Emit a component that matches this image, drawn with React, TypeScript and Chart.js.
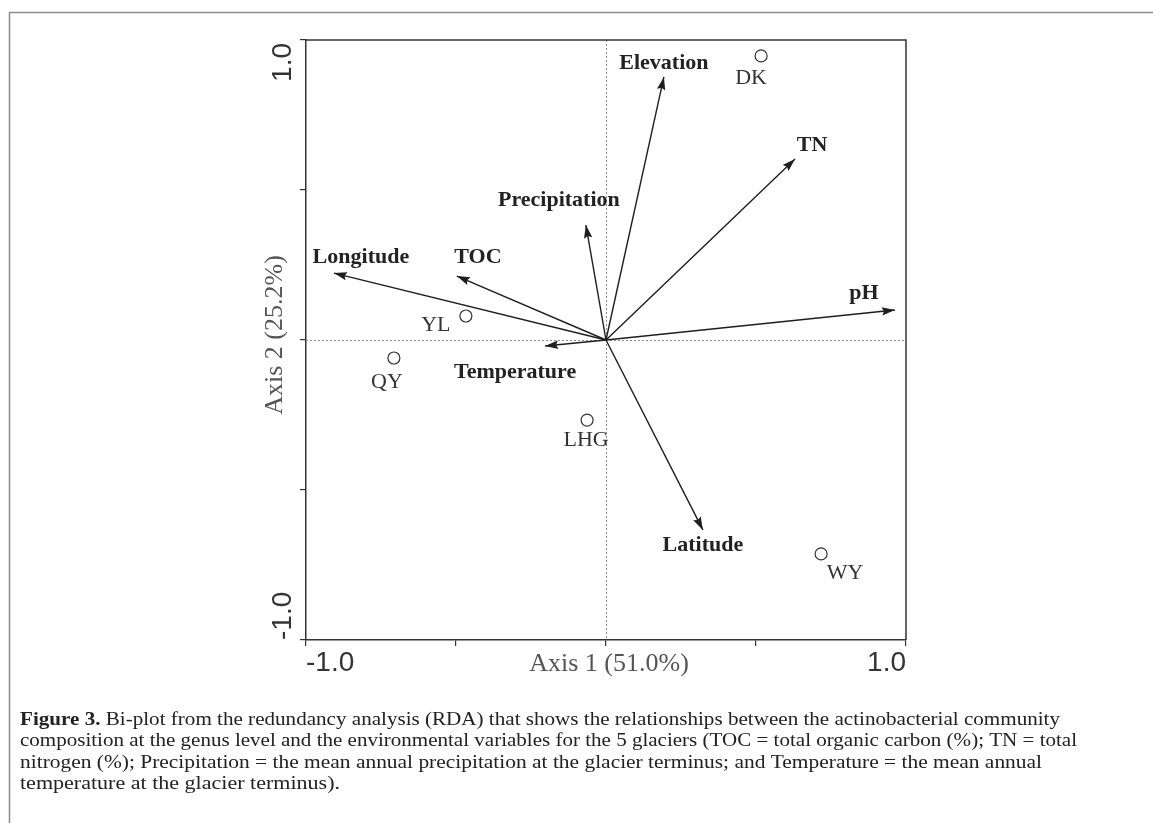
import React, { useEffect, useRef } from 'react';
import { Chart, registerables } from 'chart.js';

Chart.register(...registerables);

// ---- data ----
const VECTOR_NAMES = ['Elevation', 'TN', 'pH', 'Precipitation', 'Longitude', 'TOC', 'Temperature', 'Latitude'];
const VECTOR_X = [0.193, 0.63, 0.963, -0.067, -0.907, -0.497, -0.203, 0.323];
const VECTOR_Y = [0.877, 0.603, 0.1, 0.383, 0.223, 0.213, -0.02, -0.633];

const SITE_NAMES = ['DK', 'YL', 'QY', 'LHG', 'WY'];
const SITE_X = [0.517, -0.467, -0.707, -0.063, 0.717];
const SITE_Y = [0.947, 0.08, -0.06, -0.267, -0.713];

const AXIS_TICKS = [-1, -0.5, 0, 0.5, 1];
const TICK_LABELS = ['-1.0', '', '', '', '1.0'];

const X_TITLE = 'Axis 1 (51.0%)';
const Y_TITLE = 'Axis 2 (25.2%)';

const CAPTION_LINES: [string, string][] = [
  ['Figure 3.', ' Bi-plot from the redundancy analysis (RDA) that shows the relationships between the actinobacterial community'],
  ['', 'composition at the genus level and the environmental variables for the 5 glaciers (TOC = total organic carbon (%); TN = total'],
  ['', 'nitrogen (%); Precipitation = the mean annual precipitation at the glacier terminus; and Temperature = the mean annual'],
  ['', 'temperature at the glacier terminus).'],
];

// ---- label placement / styles ----
const VECTOR_LABEL_OFFSETS = [[0, -14], [17, -14], [-31, -17], [-27, -25], [27, -16], [21, -19], [-30, 26], [0, 15]];
const SITE_LABEL_OFFSETS = [[-10, 22], [-30, 9], [-7, 24], [-1, 20], [24, 19]];
const CAPTION_WIDTHS = [1040, 1057, 1022, 320];
const CAPTION_Y = [720, 741, 763, 784];

const W = 1153;
const H = 823;

const decorPlugin = {
  id: 'decor',
  beforeDraw(chart: any) {
    const ctx = chart.ctx;
    ctx.save();
    ctx.fillStyle = '#ffffff';
    ctx.fillRect(0, 0, chart.width, chart.height);
    ctx.restore();
  },
  beforeDatasetsDraw(chart: any) {
    const ctx = chart.ctx;
    const { left, right, top, bottom } = chart.chartArea;
    const xs = chart.scales.x;
    const ys = chart.scales.y;
    const x0 = xs.getPixelForValue(0);
    const y0 = ys.getPixelForValue(0);
    ctx.save();
    ctx.strokeStyle = '#8a8a8a';
    ctx.lineWidth = 1;
    ctx.setLineDash([2, 2]);
    ctx.beginPath();
    ctx.moveTo(Math.round(x0) + 0.5, top);
    ctx.lineTo(Math.round(x0) + 0.5, bottom);
    ctx.moveTo(left, Math.round(y0) + 0.5);
    ctx.lineTo(right, Math.round(y0) + 0.5);
    ctx.stroke();
    ctx.setLineDash([]);
    // top & right frame
    ctx.strokeStyle = '#333';
    ctx.lineWidth = 1.5;
    ctx.beginPath();
    ctx.moveTo(left, top);
    ctx.lineTo(right, top);
    ctx.lineTo(right, bottom);
    ctx.stroke();
    ctx.restore();
  },
  afterDatasetsDraw(chart: any) {
    const ctx = chart.ctx;
    const ys = chart.scales.y;
    ctx.save();
    // arrowheads
    ctx.fillStyle = '#1e1e1e';
    VECTOR_NAMES.forEach((_, i) => {
      const meta = chart.getDatasetMeta(i);
      const p0 = meta.data[0];
      const p1 = meta.data[1];
      const ang = Math.atan2(p1.y - p0.y, p1.x - p0.x);
      const len = 13;
      const hw = 4.2;
      ctx.save();
      ctx.translate(p1.x, p1.y);
      ctx.rotate(ang);
      ctx.beginPath();
      ctx.moveTo(0, 0);
      ctx.lineTo(-len, -hw);
      ctx.lineTo(-len + 2, 0);
      ctx.lineTo(-len, hw);
      ctx.closePath();
      ctx.fill();
      ctx.restore();
    });
    // vector labels
    ctx.fillStyle = '#222';
    ctx.font = 'bold 22px "Liberation Serif"';
    ctx.textAlign = 'center';
    ctx.textBaseline = 'middle';
    VECTOR_NAMES.forEach((name, i) => {
      const meta = chart.getDatasetMeta(i);
      const p1 = meta.data[1];
      const [dx, dy] = VECTOR_LABEL_OFFSETS[i];
      ctx.fillText(name, p1.x + dx, p1.y + dy);
    });
    // site labels
    const siteMeta = chart.getDatasetMeta(VECTOR_NAMES.length);
    ctx.font = '22px "Liberation Serif"';
    ctx.fillStyle = '#333';
    SITE_NAMES.forEach((name, i) => {
      const p = siteMeta.data[i];
      const [dx, dy] = SITE_LABEL_OFFSETS[i];
      ctx.fillText(name, p.x + dx, p.y + dy);
    });
    // y tick labels (rotated)
    ctx.font = '28px "Liberation Sans"';
    ctx.fillStyle = '#333';
    const yl = ys.right - 23;
    AXIS_TICKS.forEach((v, i) => {
      const label = TICK_LABELS[i];
      if (!label) return;
      const py = ys.getPixelForValue(v);
      ctx.save();
      ctx.translate(yl, i === AXIS_TICKS.length - 1 ? py + 3 : py);
      ctx.rotate(-Math.PI / 2);
      ctx.textAlign = i === AXIS_TICKS.length - 1 ? 'right' : 'left';
      ctx.textBaseline = 'middle';
      ctx.fillText(label, 0, 0);
      ctx.restore();
    });
    // axis titles
    ctx.font = '26px "Liberation Serif"';
    ctx.fillStyle = '#555';
    ctx.textAlign = 'center';
    ctx.textBaseline = 'middle';
    const { left, right, top, bottom } = chart.chartArea;
    ctx.fillText(X_TITLE, (left + right) / 2 + 3, bottom + 24);
    ctx.save();
    ctx.translate(left - 31, (top + bottom) / 2 - 5);
    ctx.rotate(-Math.PI / 2);
    ctx.fillText(Y_TITLE, 0, 0);
    ctx.restore();

    // caption
    ctx.fillStyle = '#222';
    ctx.textBaseline = 'middle';
    ctx.textAlign = 'left';
    CAPTION_LINES.forEach(([boldPart, rest], i) => {
      ctx.font = 'bold 19px "Liberation Serif"';
      const bw = boldPart ? ctx.measureText(boldPart).width : 0;
      ctx.font = '19px "Liberation Serif"';
      const rw = ctx.measureText(rest).width;
      const s = CAPTION_WIDTHS[i] / (bw + rw);
      ctx.save();
      ctx.translate(20, CAPTION_Y[i]);
      ctx.scale(s, 1);
      if (boldPart) {
        ctx.font = 'bold 19px "Liberation Serif"';
        ctx.fillText(boldPart, 0, 0);
      }
      ctx.font = '19px "Liberation Serif"';
      ctx.fillText(rest, bw, 0);
      ctx.restore();
    });

    // outer figure border
    ctx.strokeStyle = '#8c8c8c';
    ctx.lineWidth = 1.5;
    ctx.beginPath();
    ctx.moveTo(9.5, H);
    ctx.lineTo(9.5, 12.5);
    ctx.lineTo(W, 12.5);
    ctx.stroke();
    ctx.restore();
  },
};

export default function App() {
  const ref = useRef<HTMLCanvasElement | null>(null);

  useEffect(() => {
    document.body.style.margin = '0';
    const canvas = ref.current;
    if (!canvas) return;

    const vectorDatasets = VECTOR_NAMES.map((name, i) => ({
      type: 'scatter' as const,
      label: name,
      data: [
        { x: 0, y: 0 },
        { x: VECTOR_X[i], y: VECTOR_Y[i] },
      ],
      showLine: true,
      borderColor: '#1e1e1e',
      borderWidth: 1.4,
      pointRadius: 0,
      pointHoverRadius: 0,
      fill: false,
    }));

    const siteDataset = {
      type: 'scatter' as const,
      label: 'Sites',
      data: SITE_X.map((x, i) => ({ x, y: SITE_Y[i] })),
      showLine: false,
      pointRadius: 6,
      pointBackgroundColor: '#ffffff',
      pointBorderColor: '#333',
      pointBorderWidth: 1.2,
    };

    const chart = new Chart(canvas, {
      type: 'scatter',
      data: { datasets: [...vectorDatasets, siteDataset] as any },
      options: {
        responsive: false,
        animation: false,
        devicePixelRatio: 1,
        layout: { padding: { left: 246, right: 247, top: 40, bottom: 123 } },
        plugins: { legend: { display: false }, tooltip: { enabled: false } },
        scales: {
          x: {
            type: 'linear',
            min: -1,
            max: 1,
            afterBuildTicks: (scale: any) => {
              scale.ticks = AXIS_TICKS.map((v) => ({ value: v }));
            },
            afterFit: (scale: any) => {
              scale.height = 60;
            },
            ticks: {
              autoSkip: false,
              maxRotation: 0,
              minRotation: 0,
              align: 'inner',
              padding: 0,
              color: '#333',
              font: { family: '"Liberation Sans"', size: 28 },
              callback: (v: any) => {
                const idx = AXIS_TICKS.indexOf(Number(v));
                return idx >= 0 ? TICK_LABELS[idx] : '';
              },
            },
            grid: { display: true, drawOnChartArea: false, drawTicks: true, tickLength: 6, color: '#333', lineWidth: 1.2 },
            border: { display: true, color: '#333', width: 1.5 },
          },
          y: {
            type: 'linear',
            min: -1,
            max: 1,
            afterBuildTicks: (scale: any) => {
              scale.ticks = AXIS_TICKS.map((v) => ({ value: v }));
            },
            afterFit: (scale: any) => {
              scale.width = 60;
            },
            ticks: { display: false },
            grid: { display: true, drawOnChartArea: false, drawTicks: true, tickLength: 6, color: '#333', lineWidth: 1.2 },
            border: { display: true, color: '#333', width: 1.5 },
          },
        },
      } as any,
      plugins: [decorPlugin],
    });

    return () => chart.destroy();
  }, []);

  return <canvas ref={ref} width={W} height={H} style={{ display: 'block' }} />;
}
